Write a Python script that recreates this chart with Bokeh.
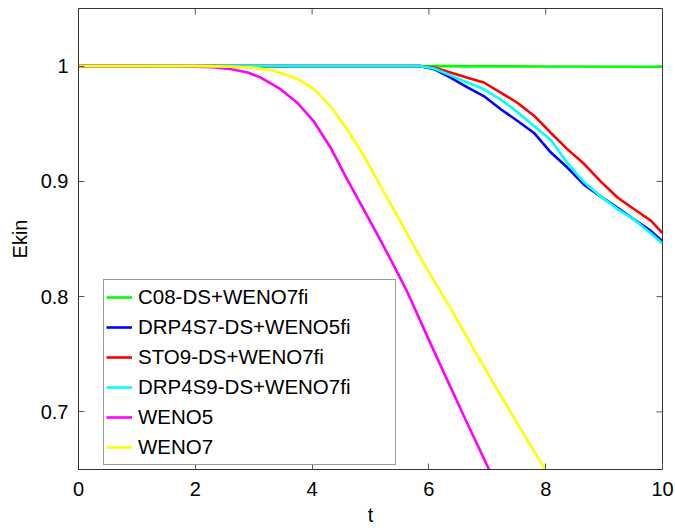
import math
from bokeh.plotting import figure
from bokeh.models import Range1d, FixedTicker, CustomJSTickFormatter, Legend, LegendItem
from bokeh.embed import file_html
from bokeh.resources import INLINE

# ---------------- data ----------------
t_c08 = [0.0, 2.0, 4.0, 6.0, 8.0, 10.0]
e_c08 = [1.0, 1.0, 1.0, 1.0, 0.9997, 0.9994]

t_drp7 = [0.0, 2.0, 4.0, 5.85, 6.09, 6.37, 6.66, 6.94, 7.23, 7.52, 7.80, 8.09, 8.37,
          8.66, 8.94, 9.23, 9.51, 9.80, 10.0]
e_drp7 = [1.0, 1.0, 1.0, 1.0, 0.9974, 0.990, 0.9815, 0.974, 0.9626, 0.9524, 0.942,
          0.925, 0.912, 0.897, 0.887, 0.877, 0.867, 0.857, 0.848]

t_sto9 = [0.0, 2.0, 4.0, 5.85, 6.09, 6.37, 6.66, 6.94, 7.23, 7.52, 7.80, 8.09, 8.37,
          8.66, 8.94, 9.23, 9.51, 9.80, 10.0]
e_sto9 = [1.0, 1.0, 1.0, 1.0, 0.9988, 0.9945, 0.990, 0.9858, 0.977, 0.968, 0.957,
          0.942, 0.928, 0.915, 0.900, 0.886, 0.876, 0.866, 0.855]

t_drp9 = [0.0, 2.0, 4.0, 5.85, 6.09, 6.37, 6.66, 6.94, 7.23, 7.52, 7.80, 8.09, 8.37,
          8.66, 8.94, 9.23, 9.51, 9.80, 10.0]
e_drp9 = [1.0, 1.0, 1.0, 1.0, 0.998, 0.992, 0.9858, 0.980, 0.971, 0.960, 0.948,
          0.936, 0.916, 0.899, 0.887, 0.876, 0.867, 0.855, 0.846]

t_weno5 = [0.0, 1.0, 1.6, 2.0, 2.3, 2.6, 2.9, 3.12, 3.46, 3.75, 4.03, 4.32, 4.60,
           4.89, 5.17, 5.46, 5.63, 6.03, 6.63, 7.03]
e_weno5 = [1.0, 1.0, 0.9999, 0.9995, 0.999, 0.9975, 0.9945, 0.990, 0.980, 0.968,
           0.952, 0.929, 0.9017, 0.875, 0.849, 0.821, 0.804, 0.759, 0.693, 0.650]

t_weno7 = [0.0, 2.0, 2.6, 3.0, 3.35, 3.75, 4.03, 4.32, 4.60, 4.89, 5.17, 5.46, 5.74,
           6.00, 6.37, 6.66, 7.00, 7.49, 7.99]
e_weno7 = [1.0, 1.0, 0.9995, 0.9985, 0.996, 0.989, 0.980, 0.965, 0.945, 0.922, 0.896,
           0.870, 0.844, 0.821, 0.790, 0.764, 0.734, 0.692, 0.650]

series = [
    ("C08-DS+WENO7fi", t_c08, e_c08, "#00ff00"),
    ("DRP4S7-DS+WENO5fi", t_drp7, e_drp7, "#0000ff"),
    ("STO9-DS+WENO7fi", t_sto9, e_sto9, "#ff0000"),
    ("DRP4S9-DS+WENO7fi", t_drp9, e_drp9, "#00ffff"),
    ("WENO5", t_weno5, e_weno5, "#ff00ff"),
    ("WENO7", t_weno7, e_weno7, "#ffff00"),
]

x_ticks = [0, 2, 4, 6, 8, 10]
y_ticks = [0.7, 0.8, 0.9, 1.0]
x_lo, x_hi = 0, 10
y_lo, y_hi = 0.65, 1.05

FONT = "Liberation Sans"

p = figure(width=675, height=528, output_backend="svg", toolbar_location=None,
           x_range=Range1d(x_lo, x_hi), y_range=Range1d(y_lo, y_hi),
           min_border_left=78, min_border_right=13, min_border_top=8,
           min_border_bottom=59)
p.background_fill_color = "white"
p.border_fill_color = "white"
p.outline_line_color = "#333333"
p.outline_line_width = 1
p.xgrid.visible = False
p.ygrid.visible = False

fmt = CustomJSTickFormatter(code="return String(Math.round(tick*10)/10);")

for ax, ticks in ((p.xaxis[0], x_ticks), (p.yaxis[0], y_ticks)):
    ax.ticker = FixedTicker(ticks=ticks)
    ax.formatter = fmt
    ax.major_tick_in = 6
    ax.major_tick_out = 0
    ax.minor_tick_in = 0
    ax.minor_tick_out = 0
    ax.major_tick_line_color = "#555555"
    ax.axis_line_color = "#333333"
    ax.major_label_text_font = FONT
    ax.major_label_text_color = "black"
    ax.major_label_text_font_size = "20px"
    ax.axis_label_text_font = FONT
    ax.axis_label_text_font_size = "20px"
    ax.axis_label_text_font_style = "normal"
    ax.axis_label_text_color = "black"

p.xaxis[0].axis_label = "t"
p.yaxis[0].axis_label = "Ekin"
p.xaxis[0].major_label_standoff = 12
p.xaxis[0].axis_label_standoff = 5
p.yaxis[0].major_label_standoff = 10
p.yaxis[0].axis_label_standoff = 7

# inward tick marks on the top and right edges of the box
p.ray(x=x_ticks, y=[y_hi] * len(x_ticks), length=6, angle=-math.pi / 2,
      length_units="screen", line_color="#555555", line_width=1)
p.ray(x=[x_hi] * len(y_ticks), y=y_ticks, length=6, angle=math.pi,
      length_units="screen", line_color="#555555", line_width=1)

items = []
for name, t, e, col in series:
    r = p.line(t, e, line_color=col, line_width=2.6)
    items.append(LegendItem(label=name, renderers=[r]))

legend = Legend(items=items, location=(25, 4))
legend.label_text_font = FONT
legend.label_text_font_size = "20.5px"
legend.label_text_color = "black"
legend.glyph_width = 26
legend.glyph_height = 30
legend.label_height = 30
legend.label_width = 255
legend.label_standoff = 6
legend.spacing = 0
legend.padding = 2
legend.margin = 0
legend.border_line_color = "#333333"
legend.border_line_width = 1
legend.background_fill_color = "white"
legend.background_fill_alpha = 1.0
p.add_layout(legend, "center")

open("out.html", "w").write(file_html(p, INLINE))
